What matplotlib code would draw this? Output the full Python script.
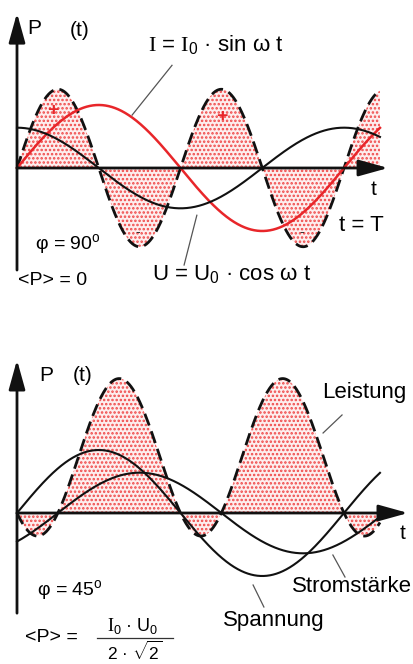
import numpy as np
import matplotlib.pyplot as plt

plt.rcParams['font.family'] = ['Liberation Sans', 'DejaVu Sans']
plt.rcParams['mathtext.fontset'] = 'custom'
plt.rcParams['mathtext.rm'] = 'Liberation Serif'
plt.rcParams['mathtext.sf'] = 'Liberation Sans'
plt.rcParams['mathtext.it'] = 'Liberation Sans:italic'
plt.rcParams['hatch.linewidth'] = 1.2

# time axis in units of the period T
t_end = 1.11
# top sketch: phase shift 90 degrees
phi_top = 90
I0_top = 1.0
U0_top = 0.64
P0_top = 2.5
# bottom sketch: phase shift 45 degrees
phi_bot = 45
U0_bot = 1.0
I0_bot = 0.64
P0_bot = 2.5

# drawing scale
px_per_T = 327
px_per_unit = 63

t = np.linspace(0, t_end, 800)
w = 2 * np.pi * t

I_top = I0_top * np.sin(w)
U_top = U0_top * np.sin(w + np.radians(phi_top))
P_top = P0_top * (I_top / I0_top) * (U_top / U0_top)

U_bot = U0_bot * np.sin(w)
I_bot = I0_bot * np.sin(w - np.radians(phi_bot))
P_bot = P0_bot * (U_bot / U0_bot) * (I_bot / I0_bot)

fig = plt.figure(figsize=(4.14, 6.64), dpi=100)
ax1 = fig.add_axes([0, 0.5, 1, 0.5])
ax2 = fig.add_axes([0, 0, 1, 0.5])

xlim = (-17 / px_per_T, 397 / px_per_T)
ax1.set_xlim(xlim)
ax1.set_ylim((168 - 332) / px_per_unit, 168 / px_per_unit)
ax2.set_xlim(xlim)
ax2.set_ylim((513 - 664) / px_per_unit, (513 - 332) / px_per_unit)

red = '#e8262a'
dot_red = '#f04848'
pink = '#fdeeee'
dash = (0, (4.5, 2.2))


def axis_arrows(ax, y_bottom, y_top, x_right):
    arrow = dict(arrowstyle='-|>,head_length=1.8,head_width=0.5',
                 color='#111111', lw=2, shrinkA=0, shrinkB=0, mutation_scale=10)
    ax.annotate('', xy=(0, y_top), xytext=(0, y_bottom), arrowprops=arrow)
    ax.annotate('', xy=(x_right, 0), xytext=(0, 0), arrowprops=arrow)


def leader(ax, p, q):
    ax.plot([p[0], q[0]], [p[1], q[1]], color='#555555', lw=0.9)


# --- top: phi = 90 deg ---
ax1.fill_between(t, P_top, 0, facecolor=pink, edgecolor=dot_red,
                 hatch='....', linewidth=0)
ax1.plot(t, P_top, color='#111111', lw=2, linestyle=dash)
ax1.plot(t, I_top, color=red, lw=1.8)
ax1.plot(t, U_top, color='#111111', lw=1.5)
axis_arrows(ax1, -1.62, 2.46, 1.135)

ax1.text(0.053, 2.21, 'P', fontsize=15, ha='center', va='center')
ax1.text(0.190, 2.19, '(t)', fontsize=15, ha='center', va='center')
ax1.text(0.401, 1.95, r'$\mathrm{I}$ = $\mathrm{I}_\mathsf{0}$ · sin ω t',
         fontsize=16, ha='left', va='center')
ax1.text(0.413, -1.70, r'U = U$_\mathsf{0}$ · cos ω t', fontsize=16,
         ha='left', va='center')
ax1.text(0.055, -1.21, r'φ = 90$^\mathsf{o}$', fontsize=14, ha='left',
         va='center')
ax1.text(0.003, -1.79, '<P> = 0', fontsize=14, ha='left', va='center')
ax1.text(1.089, -0.34, 't', fontsize=15, ha='center', va='center')
ax1.text(0.985, -0.92, 't = T', fontsize=16, ha='left', va='center')
ax1.text(0.110, 0.92, '+', color=red, fontsize=14, fontweight='bold',
         ha='center', va='center')
ax1.text(0.627, 0.81, '+', color=red, fontsize=14, fontweight='bold',
         ha='center', va='center')
ax1.text(0.370, -1.02, '-', color='#333333', fontsize=10, ha='center', va='center')
ax1.text(0.872, -1.02, '-', color='#333333', fontsize=10, ha='center', va='center')
leader(ax1, (0.352, 0.84), (0.474, 1.63))
leader(ax1, (0.550, -0.75), (0.511, -1.54))

# --- bottom: phi = 45 deg ---
ax2.fill_between(t, P_bot, 0, facecolor=pink, edgecolor=dot_red,
                 hatch='....', linewidth=0)
ax2.plot(t, P_bot, color='#111111', lw=2, linestyle=dash)
ax2.plot(t, U_bot, color='#111111', lw=1.5)
ax2.plot(t, I_bot, color='#111111', lw=1.5)
axis_arrows(ax2, -1.59, 2.43, 1.196)

ax2.text(0.089, 2.19, 'P', fontsize=15, ha='center', va='center')
ax2.text(0.202, 2.19, '(t)', fontsize=15, ha='center', va='center')
ax2.text(1.18, -0.33, 't', fontsize=15, ha='center', va='center')
ax2.text(0.933, 1.92, 'Leistung', fontsize=16, ha='left', va='center')
ax2.text(0.841, -1.16, 'Stromstärke', fontsize=16, ha='left', va='center')
ax2.text(0.630, -1.70, 'Spannung', fontsize=16, ha='left', va='center')
ax2.text(0.061, -1.22, r'φ = 45$^\mathsf{o}$', fontsize=14, ha='left',
         va='center')
ax2.text(0.024, -1.97, '<P> =', fontsize=14, ha='left', va='center')
ax2.text(0.355, -1.80, r'$\mathrm{I}_\mathsf{0}$ · U$_\mathsf{0}$',
         fontsize=13, ha='center', va='center')
ax2.plot([0.245, 0.477], [-1.984, -1.984], color='#333333', lw=0.9)
ax2.text(0.361, -2.20, r'2 · $\sqrt{\mathsf{2}}$', fontsize=12.5,
         ha='center', va='center')
leader(ax2, (0.936, 1.27), (0.994, 1.556))
leader(ax2, (0.966, -0.667), (1.003, -1.016))
leader(ax2, (0.722, -1.143), (0.755, -1.492))

for ax in (ax1, ax2):
    ax.set_axis_off()

fig.savefig('out.png', dpi=100, facecolor='white')
